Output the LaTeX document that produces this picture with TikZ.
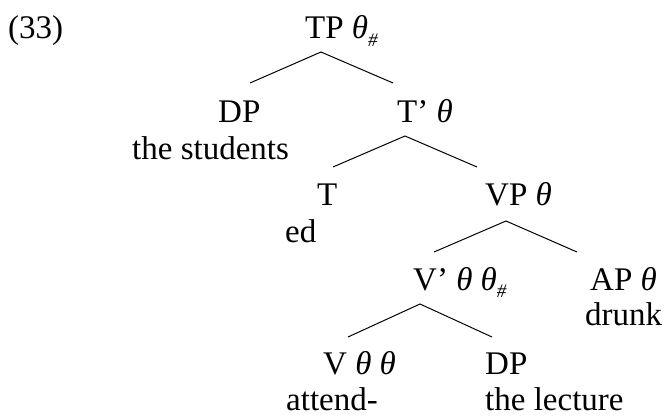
\documentclass[tikz,border=0pt]{standalone}
\usepackage{fontspec}
\setmainfont{Liberation Serif}
\usetikzlibrary{positioning}

\newcommand{\thet}{\textit{θ}}
\newcommand{\thhash}{\textit{θ}\raisebox{-0.22em}{\fontsize{19}{19}\selectfont\textit{\#}}}

\begin{document}
\begin{tikzpicture}[x=1pt, y=1pt,
    lbl/.style={inner sep=0pt, anchor=base west, font=\fontsize{33}{39}\selectfont},
    branch/.style={line width=1pt}]

    % bounding box of the whole figure
    \useasboundingbox (0,0) rectangle (664,416);

    % example number
    \node[lbl] (exnum) at (8,377) {(33)};

    % node labels, row by row
    \node[lbl] (tp) at (305,377) {TP \thhash};
    \node[lbl] (dpa) at (218,294) {DP};
    \node[lbl] (students) at (132,257) {the students};
    \node[lbl] (tbar) at (397,294) {T' \thet};
    \node[lbl] (t) at (317,211) {T};
    \node[lbl] (ed) at (285,174) {ed};
    \node[lbl] (vp) at (485,211) {VP \thet};
    \node[lbl] (vbar) at (413,126) {V' \thet\ \thhash};
    \node[lbl] (ap) at (590,126) {AP \thet};
    \node[lbl] (drunk) at (585,91) {drunk};
    \node[lbl] (v) at (323,42) {V \thet\ \thet};
    \node[lbl] (attend) at (286,6) {attend-};
    \node[lbl] (dpb) at (485,42) {DP};
    \node[lbl] (lecture) at (485,6) {the lecture};

    % branch points
    \coordinate (tp-top) at (321,364);
    \coordinate (tp-l) at (250,333);
    \coordinate (tp-r) at (393,333);
    \coordinate (tbar-top) at (405,280);
    \coordinate (tbar-l) at (333,249);
    \coordinate (tbar-r) at (477,249);
    \coordinate (vp-top) at (506,195);
    \coordinate (vp-l) at (434,164);
    \coordinate (vp-r) at (577,164);
    \coordinate (vbar-top) at (420,112);
    \coordinate (vbar-l) at (348,79);
    \coordinate (vbar-r) at (492,79);

    % branches
    \foreach \n in {tp, tbar, vp, vbar}
        \draw[branch] (\n-l) -- (\n-top) -- (\n-r);

\end{tikzpicture}
\end{document}
